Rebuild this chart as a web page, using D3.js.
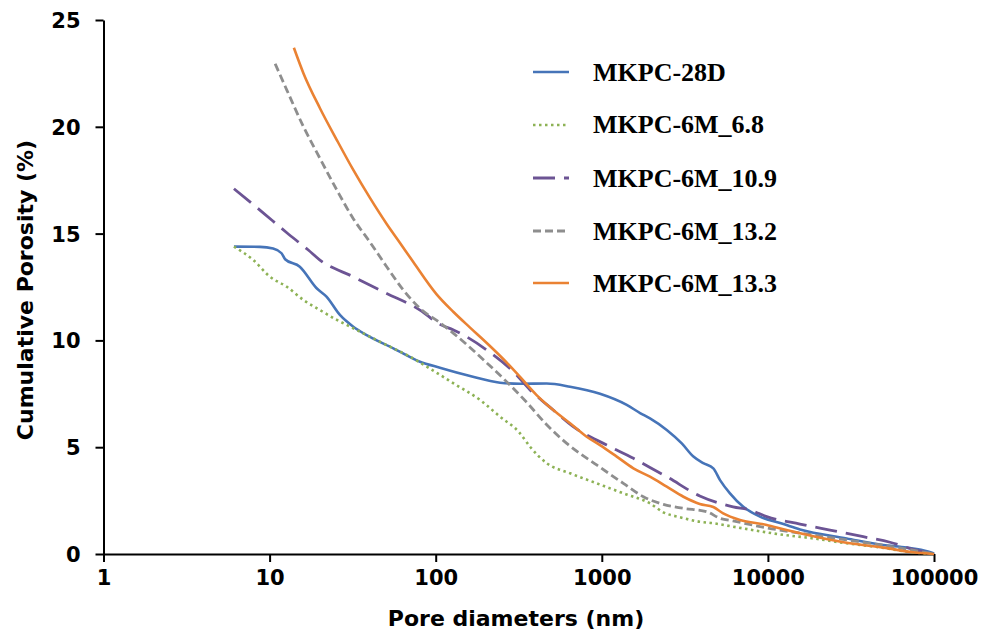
<!DOCTYPE html>
<html><head><meta charset="utf-8">
<script src="https://cdn.jsdelivr.net/npm/d3@7"></script>
<style>
html,body{margin:0;padding:0;background:#fff;}
svg{display:block;}
</style></head>
<body>
<svg id="chart" width="984" height="634"></svg>
<script>
// ---- data (pore diameter nm, cumulative porosity %) ----
const seriesNames = ["MKPC-28D","MKPC-6M_6.8","MKPC-6M_10.9","MKPC-6M_13.2","MKPC-6M_13.3"];
const xTicks = [1,10,100,1000,10000,100000];
const yTicks = [0,5,10,15,20,25];

const d28D = [[6.1,14.39],[8.75,14.38],[10.5,14.3],[11.8,14.08],[12.4,13.8],[15.2,13.45],[19.2,12.44],[22,12.05],[26.5,11.19],[31.9,10.64],[38.4,10.25],[55.6,9.63],[80.4,9.0],[106,8.72],[161,8.33],[244,8.02],[322,7.97],[466,7.98],[644,7.83],[975,7.5],[1413,6.98],[1700,6.6],[1950,6.35],[2460,5.81],[3030,5.18],[3560,4.56],[4083,4.25],[4690,4.01],[5150,3.46],[5910,2.84],[7110,2.21],[8960,1.75],[12400,1.4],[15600,1.15],[29800,0.73],[49500,0.42],[68500,0.3],[92000,0.12],[100000,0.02]];
const d68 = [[6.1,14.39],[7.98,13.76],[10.05,12.98],[12.7,12.51],[16,11.89],[20.1,11.42],[25.4,10.96],[31.9,10.57],[38.4,10.25],[50.7,9.78],[66.9,9.32],[104,8.43],[128,7.99],[185,7.21],[244,6.43],[322,5.65],[370,5.02],[466,4.25],[644,3.78],[931,3.31],[1348,2.84],[1950,2.37],[2350,1.95],[2960,1.72],[3890,1.51],[4690,1.44],[6170,1.28],[11780,0.92],[18750,0.73],[29800,0.5],[47300,0.31],[68500,0.11],[100000,0]];
const d109 = [[6.1,17.1],[8.96,16.03],[12.7,15.04],[17.1,14.23],[20.1,13.76],[31.9,12.98],[50.7,12.2],[80.4,11.42],[106,10.75],[128,10.49],[203,9.55],[293,8.54],[370,7.68],[510,6.74],[673,5.96],[1070,5.1],[1550,4.48],[1950,4.05],[2460,3.62],[3890,2.72],[6170,2.21],[7800,2.06],[9840,1.75],[15600,1.4],[23650,1.12],[37500,0.81],[54300,0.55],[75000,0.22],[100000,0]];
const d132 = [[10.8,22.95],[12.7,21.72],[16,20.0],[20.1,18.52],[25.4,17.04],[31.9,15.7],[40.2,14.6],[50.7,13.45],[63.8,12.36],[80.4,11.5],[106,10.83],[128,10.33],[203,8.95],[267,8.07],[353,7.1],[466,6.05],[615,5.18],[931,4.17],[1348,3.31],[1780,2.68],[2350,2.32],[3100,2.14],[4280,1.98],[5150,1.67],[6170,1.55],[9840,1.22],[15600,0.98],[29800,0.66],[68500,0.23],[100000,0]];
const d133 = [[14,23.7],[16,22.5],[20.1,20.87],[25.4,19.38],[31.9,17.98],[40.2,16.67],[50.7,15.45],[61,14.56],[73.3,13.67],[101,12.17],[128,11.33],[161,10.6],[203,9.88],[255,9.13],[322,8.29],[405,7.44],[510,6.74],[644,6.12],[811,5.49],[975,5.1],[1230,4.56],[1550,4.01],[1950,3.62],[2460,3.15],[3100,2.68],[3890,2.34],[4690,2.2],[5380,1.9],[6790,1.59],[9840,1.36],[12400,1.16],[19700,0.8],[31200,0.5],[49500,0.3],[75000,0.08],[100000,0]];

const seriesData = [d28D, d68, d109, d132, d133];
const colors = ["#4674B8","#8DB255","#6C5494","#8E8E8E","#EA8233"];
const dashes = [null,"2.5,3.5","22,9","8,4",null];
const widths = [2.6,2.6,2.8,2.8,2.6];

// ---- layout ----
const svg = d3.select("#chart");
const x = d3.scaleLog().domain([1,100000]).range([103.5,934]);
const y = d3.scaleLinear().domain([0,25]).range([554,20]);
const tickFont = "'DejaVu Sans', Verdana, sans-serif";

// axes
const xAxis = svg.append("g").attr("transform","translate(0,554)")
  .call(d3.axisBottom(x).tickValues(xTicks).tickFormat(d3.format("d")).tickSize(8).tickSizeOuter(0).tickPadding(6));
const yAxis = svg.append("g").attr("transform","translate(103.5,0)")
  .call(d3.axisLeft(y).tickValues(yTicks).tickFormat(d3.format("d")).tickSize(8).tickSizeOuter(0).tickPadding(15));
[xAxis,yAxis].forEach(g=>{
  g.select(".domain").attr("stroke","#000").attr("stroke-width",2);
  g.selectAll(".tick line").attr("stroke","#000").attr("stroke-width",2);
  g.selectAll(".tick text").attr("fill","#000")
    .style("font-family",tickFont).style("font-weight","bold").style("font-size","21px");
});
xAxis.selectAll(".tick text").attr("dy","0.71em").attr("y",16);
yAxis.selectAll(".tick text").attr("dy","0.36em");

// axis titles
svg.append("text").attr("x",516).attr("y",626).attr("text-anchor","middle")
  .style("font-family",tickFont).style("font-weight","bold").style("font-size","22px")
  .text("Pore diameters (nm)");
svg.append("text").attr("transform","translate(33,290) rotate(-90)").attr("text-anchor","middle")
  .style("font-family",tickFont).style("font-weight","bold").style("font-size","22px")
  .text("Cumulative Porosity (%)");

// lines
const line = d3.line().x(d=>x(d[0])).y(d=>y(d[1])).curve(d3.curveMonotoneX);
seriesData.forEach((data,i)=>{
  svg.append("path").datum(data)
    .attr("fill","none").attr("stroke",colors[i]).attr("stroke-width",widths[i])
    .attr("stroke-dasharray",dashes[i]).attr("stroke-linejoin","round")
    .attr("d",line);
});

// legend
const legY = [72,125,178,231,283];
const legText = [81,133,187,240,292];
seriesNames.forEach((name,i)=>{
  svg.append("line").attr("x1",533).attr("x2",569).attr("y1",legY[i]).attr("y2",legY[i])
    .attr("stroke",colors[i]).attr("stroke-width",widths[i]).attr("stroke-dasharray",dashes[i]);
  svg.append("text").attr("x",593).attr("y",legText[i])
    .style("font-family","'Liberation Serif','Times New Roman',serif").style("font-weight","bold").style("font-size","26px")
    .attr("fill","#000").text(name);
});
</script>
</body></html>
